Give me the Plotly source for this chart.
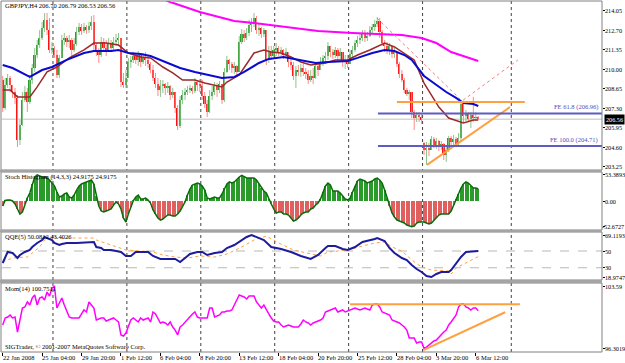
import plotly.graph_objects as go

# ====================== data ======================
TITLE_MAIN = "GBPJPY,H4 206.70 206.79 206.53 206.56"
TITLE_STOCH = "Stoch Histogram (14,3,3) 24.9175 24.9175"
TITLE_QQE = "QQE(5) 50.0812 43.4026"
TITLE_MOM = "Mom(14) 100.7511"
COPYRIGHT = "SIGTrader, \u00a9 2001-2007 MetaQuotes Software Corp."

first_open = 209.27
gap_bar = 171
gap_open = 204.91

closes = [
    207.33, 208.93, 209.41, 208.93, 208.44, 208.03, 205.12, 206.16, 207.89, 208.44,
    207.75, 209.27, 210.10, 211.00, 211.69, 212.18, 212.87, 213.43, 212.73, 211.35,
    211.49, 211.00, 209.62, 210.80, 212.04, 212.18, 211.90, 212.04, 211.35, 211.76,
    212.59, 212.94, 212.66, 212.94, 212.73, 213.01, 213.29, 211.69, 211.21, 211.00,
    211.90, 211.49, 211.35, 211.76, 211.49, 211.90, 212.04, 212.18, 209.13, 208.93,
    209.41, 210.52, 210.66, 210.93, 210.66, 211.00, 210.52, 210.86, 210.66, 210.38,
    209.96, 209.41, 209.00, 208.58, 208.86, 209.00, 208.72, 208.86, 208.23, 208.44,
    207.33, 206.09, 207.89, 208.23, 208.44, 208.58, 208.72, 208.51, 209.13, 208.93,
    208.86, 208.16, 207.61, 207.06, 208.16, 208.44, 208.86, 208.58, 209.00, 207.89,
    209.83, 210.66, 210.38, 210.10, 210.24, 209.83, 211.90, 212.46, 212.18, 212.53,
    213.08, 213.29, 213.56, 212.73, 212.87, 212.46, 212.73, 210.66, 211.21, 210.93,
    211.35, 211.49, 211.21, 211.35, 211.00, 211.21, 210.52, 210.31, 209.55, 209.96,
    209.83, 210.10, 209.83, 209.69, 209.27, 209.55, 209.41, 210.24, 209.96, 210.52,
    210.80, 210.93, 211.63, 211.21, 211.00, 211.35, 210.93, 211.21, 210.52, 210.66,
    210.38, 211.07, 211.35, 211.83, 212.04, 212.18, 212.46, 212.18, 212.32, 212.73,
    212.94, 213.15, 213.36, 212.59, 211.83, 211.63, 211.35, 211.63, 211.07, 211.21,
    210.38, 209.69, 209.27, 208.58, 208.30, 208.44, 207.06, 206.64, 206.85, 206.71,
    206.50, 204.43, 204.56, 204.43, 205.19, 204.77, 205.05, 204.63, 204.84, 204.08,
    204.43, 205.26, 204.98, 205.19, 204.84, 205.26, 207.61, 206.78, 206.99, 206.57,
    206.85, 206.64, 206.70, 206.56,
]
highs = [
    209.55, 209.41, 209.69, 209.55, 208.93, 208.72, 208.23, 206.50, 208.44, 208.86,
    208.72, 209.62, 210.38, 211.49, 212.04, 212.73, 213.29, 213.91, 213.91, 213.56,
    211.90, 211.63, 211.35, 211.00, 212.39, 212.53, 212.32, 212.39, 212.18, 212.18,
    212.94, 213.22, 213.15, 213.22, 213.08, 213.29, 213.70, 213.77, 211.83, 211.49,
    212.25, 212.18, 212.04, 212.18, 212.04, 212.25, 212.46, 212.53, 212.18, 209.76,
    209.96, 210.80, 210.93, 211.21, 211.14, 211.28, 211.07, 211.14, 211.21, 210.93,
    210.52, 210.31, 209.76, 209.41, 209.27, 209.27, 209.06, 209.13, 208.93, 208.72,
    208.44, 207.54, 208.16, 208.58, 208.72, 208.86, 208.93, 208.86, 209.41, 209.27,
    209.34, 209.27, 208.44, 207.89, 208.58, 208.86, 209.13, 209.06, 209.20, 209.00,
    210.10, 210.93, 210.73, 210.52, 210.52, 210.31, 212.32, 212.80, 212.73, 212.87,
    213.43, 213.56, 213.91, 213.70, 213.22, 212.94, 212.87, 212.73, 211.63, 211.63,
    211.63, 211.83, 211.63, 211.56, 211.42, 211.49, 211.07, 210.80, 210.52, 210.24,
    210.31, 210.38, 210.38, 210.10, 209.96, 209.96, 210.10, 210.52, 210.45, 210.86,
    211.00, 211.21, 211.90, 211.56, 211.42, 211.56, 211.49, 211.49, 211.21, 211.00,
    211.00, 211.35, 211.63, 212.04, 212.32, 212.53, 212.73, 212.73, 212.59, 213.01,
    213.15, 213.43, 213.63, 213.56, 212.73, 212.04, 211.90, 211.83, 211.63, 211.49,
    211.21, 210.52, 209.96, 209.41, 208.72, 208.58, 208.44, 207.20, 207.06, 207.06,
    206.99, 204.98, 204.98, 204.91, 205.40, 205.33, 205.26, 205.12, 205.05, 204.91,
    204.77, 205.40, 205.40, 205.46, 205.33, 205.60, 207.89, 207.68, 207.20, 207.06,
    207.06, 208.10, 207.06, 206.79,
]
lows = [
    207.06, 207.20, 208.72, 208.44, 208.03, 207.61, 204.63, 204.77, 206.09, 207.75,
    207.06, 207.61, 209.00, 209.83, 210.80, 211.49, 212.04, 212.59, 212.39, 211.14,
    211.07, 210.80, 209.41, 209.41, 210.80, 211.69, 211.56, 211.49, 210.86, 211.21,
    211.63, 212.39, 212.39, 212.53, 212.46, 212.53, 212.73, 211.35, 210.93, 210.45,
    210.86, 211.21, 210.93, 211.21, 211.21, 211.35, 211.63, 211.69, 208.79, 208.72,
    208.72, 209.41, 210.10, 210.45, 210.38, 210.24, 210.17, 210.38, 210.24, 210.10,
    209.76, 209.20, 208.72, 208.16, 208.10, 208.37, 208.23, 208.37, 207.89, 208.03,
    206.99, 205.81, 205.95, 207.61, 207.89, 208.23, 208.37, 208.30, 208.37, 208.51,
    208.44, 207.89, 207.33, 206.71, 206.99, 207.89, 208.23, 208.10, 208.37, 207.61,
    207.75, 209.76, 209.96, 209.76, 209.69, 209.55, 209.83, 211.76, 211.90, 212.04,
    212.32, 212.59, 212.94, 212.46, 212.32, 212.18, 212.25, 210.31, 210.45, 210.66,
    210.80, 210.93, 210.93, 210.93, 210.73, 210.80, 210.17, 209.96, 209.27, 208.72,
    209.55, 209.48, 209.55, 209.34, 209.00, 209.13, 209.00, 209.35, 209.55, 209.96,
    210.24, 210.38, 210.66, 210.86, 210.73, 210.80, 210.59, 210.66, 210.17, 210.03,
    210.10, 210.38, 210.80, 211.21, 211.56, 211.76, 211.97, 211.90, 211.97, 212.25,
    212.46, 212.66, 212.94, 212.18, 211.63, 211.21, 211.07, 211.00, 210.80, 210.80,
    210.17, 209.41, 209.13, 208.37, 208.16, 207.89, 206.64, 205.81, 206.36, 206.36,
    206.23, 204.08, 203.39, 204.01, 204.43, 204.56, 204.50, 204.36, 204.43, 203.73,
    203.60, 204.29, 204.70, 204.70, 204.63, 204.70, 204.98, 206.36, 206.43, 206.36,
    205.95, 206.36, 206.43, 206.53,
]
bid_price = 206.56
bid_text = "206.56"

ma_blue_bars = [0, 4, 11, 16, 20, 26, 33, 37, 44, 47, 51, 56, 60, 67, 72, 78, 80, 89, 94, 98,
                104, 108, 114, 121, 127, 132, 140, 144, 150, 155, 159, 163, 166, 171, 176, 180,
                184, 187, 191, 193]
ma_blue = [210.31, 210.10, 209.48, 209.96, 210.17, 210.66, 211.14, 211.28, 211.28, 211.35,
           211.14, 211.07, 210.93, 210.45, 210.10, 209.83, 209.76, 209.41, 209.48, 209.83,
           210.45, 210.73, 210.86, 210.66, 210.45, 210.52, 210.59, 210.80, 211.14, 211.35,
           211.28, 211.00, 210.66, 209.55, 208.93, 208.44, 208.03, 207.68, 207.61, 207.47]
ma_red_bars = [0, 3, 6, 11, 14, 18, 22, 27, 33, 37, 42, 47, 51, 56, 60, 65, 69, 73, 78, 82,
               89, 91, 96, 100, 102, 106, 109, 113, 117, 121, 125, 131, 135, 140, 144, 149,
               153, 155, 159, 163, 167, 171, 177, 181, 187, 191, 193]
ma_red = [208.58, 208.58, 208.10, 208.10, 208.79, 209.83, 210.17, 210.80, 211.35, 211.83,
          211.83, 211.69, 211.14, 210.86, 210.80, 210.17, 209.76, 209.27, 209.27, 209.06,
          208.79, 209.13, 209.62, 210.66, 211.14, 211.35, 211.21, 211.14, 210.86, 210.52,
          210.31, 210.45, 210.66, 210.66, 211.00, 211.35, 211.69, 211.83, 211.56, 211.14,
          210.66, 209.06, 207.40, 206.64, 206.30, 206.50, 206.50]
ma_long_bars = [56, 68, 80, 89, 94, 102, 114, 128, 142, 155, 162, 170, 176, 182, 189, 193]
ma_long = [215.50, 214.67, 213.98, 213.56, 213.36, 213.22, 212.94, 212.66, 212.53, 212.46,
           212.39, 212.18, 211.83, 211.21, 210.80, 210.59]

fe_texts = ["FE 61.8 (206.96)", "FE 100.0 (204.71)"]
fe_prices = [206.96, 204.71]
fe_start_bar = 152.3
resist_bars = [160.0, 211.9]
resist_prices = [207.75, 207.75]
support_bars = [172.2, 205.9]
support_prices = [203.39, 207.40]
fib_path_bars = [151.9, 186.4, 209.1]
fib_path_prices = [213.56, 207.82, 210.66]

stoch = [
    -10.2, 1.0, 2.0, 2.0, 0.0, -6.1, -16.3, -26.5, -22.4, -6.1,
    6.1, 16.3, 34.7, 49.0, 53.39, 51.0, 49.0, 49.0, 46.9, 42.8,
    36.7, 30.6, 18.4, 8.2, 10.2, 14.3, 16.3, 8.2, 6.1, 12.2,
    22.4, 30.6, 34.7, 36.7, 38.8, 40.8, 42.8, 34.7, 10.2, -10.2,
    -20.4, -22.4, -20.4, -18.4, -16.3, -8.2, -2.0, -6.1, -16.3, -34.7,
    -42.8, -26.5, -12.2, 0.5, 8.2, 12.2, 4.1, 4.1, 6.1, 2.0,
    -4.1, -18.4, -26.5, -34.7, -38.8, -36.7, -32.6, -28.6, -28.6, -30.6,
    -30.6, -26.5, -20.4, -12.2, -2.0, 12.2, 24.5, 32.6, 34.7, 36.7,
    34.7, 30.6, 22.4, 6.1, 4.1, 6.1, 8.2, 6.1, 6.1, 14.3,
    26.5, 34.7, 38.8, 36.7, 38.8, 44.9, 49.0, 52.5, 49.0, 46.9,
    46.9, 46.9, 46.9, 42.8, 34.7, 26.5, 20.4, 16.3, 4.1, -6.1,
    -16.3, -24.5, -22.4, -22.4, -26.5, -26.5, -28.6, -34.7, -40.8, -38.8,
    -34.7, -28.6, -24.5, -22.4, -22.4, -16.3, -14.3, -8.2, -4.1, 4.1,
    18.4, 30.6, 36.7, 32.6, 20.4, 20.4, 20.4, 16.3, 10.2, 4.1,
    2.0, 6.1, 18.4, 30.6, 40.8, 44.9, 42.8, 40.8, 36.7, 38.8,
    40.8, 44.9, 46.9, 42.8, 36.7, 22.4, 6.1, -10.2, -24.5, -32.6,
    -38.8, -40.8, -42.8, -44.9, -49.0, -51.0, -52.67, -51.0, -44.9, -42.8,
    -42.8, -42.8, -44.9, -46.9, -44.9, -38.8, -34.7, -28.6, -26.5, -26.5,
    -26.5, -26.5, -20.4, -8.2, 4.1, 14.3, 26.5, 34.7, 38.8, 36.7,
    30.6, 26.5, 26.5, 24.92,
]

qqe_fast_bars = [0, 1, 2, 4, 6, 7, 9, 11, 12, 14, 16, 17, 18, 20, 21, 23, 24, 26, 30, 34,
                 37, 38, 40, 41, 44, 46, 48, 50, 52, 54, 56, 59, 61, 64, 70, 72, 74, 76, 79, 81,
                 83, 86, 89, 91, 94, 97, 99, 101, 104, 106, 109, 113, 117, 121, 125, 128, 131,
                 132, 135, 138, 140, 143, 146, 148, 151, 152, 155, 157, 159, 162, 164, 166,
                 168, 170, 172, 174, 176, 178, 181, 182, 184, 186, 188, 191, 193]
qqe_fast = [35.69, 42.85, 48.82, 47.63, 41.66, 45.24, 48.82, 51.21, 54.79, 59.57,
            63.15, 66.73, 65.54, 63.15, 59.57, 57.18, 58.37, 59.57, 59.57, 60.76,
            60.76, 54.79, 53.60, 51.21, 51.21, 50.02, 48.82, 44.05, 44.05, 48.82,
            48.82, 48.82, 44.05, 40.46, 40.46, 36.88, 41.66, 46.43, 48.82, 48.82,
            45.24, 47.63, 48.82, 53.60, 57.18, 63.15, 66.73, 69.12, 65.54, 63.15,
            54.79, 52.40, 48.82, 44.05, 40.46, 45.24, 53.60, 55.99, 55.99, 52.40,
            51.21, 54.79, 60.76, 61.96, 64.34, 65.54, 61.96, 53.60, 47.63, 41.66,
            39.27, 33.30, 28.52, 24.94, 20.17, 18.97, 22.55, 24.94, 24.94, 27.33,
            35.69, 42.85, 48.82, 50.02, 50.08]
qqe_slow_bars = [0, 4, 10, 12, 15, 17, 19, 21, 26, 37, 38, 44, 48, 50, 56, 61, 65, 70, 75, 80,
                 86, 91, 97, 102, 107, 112, 118, 124, 129, 132, 140, 146, 151, 155, 158, 162,
                 166, 170, 174, 181, 182, 184, 189, 193]
qqe_slow = [36.88, 41.66, 42.85, 47.63, 54.79, 63.15, 64.34, 65.54, 65.54, 65.54,
            63.15, 57.18, 53.60, 51.21, 50.02, 48.82, 45.24, 42.85, 41.66, 44.05,
            42.85, 46.43, 54.79, 63.15, 67.90, 59.57, 51.21, 47.63, 44.05, 48.82,
            51.21, 55.99, 59.57, 60.76, 54.79, 50.02, 39.27, 30.91, 27.33, 26.14,
            22.55, 29.72, 36.88, 43.40]
qqe_levels = [50, 30]

mom = [
    99.06, 99.89, 100.00, 100.24, 99.89, 100.00, 98.24, 99.65, 101.06, 101.18,
    101.77, 101.41, 102.24, 102.59, 101.41, 102.24, 102.36, 102.00, 102.94, 102.47,
    103.41, 103.59, 101.06, 101.65, 102.24, 101.41, 100.59, 100.00, 99.89, 99.89,
    99.89, 99.89, 100.36, 100.83, 100.59, 101.77, 101.41, 101.06, 99.65, 99.77,
    99.89, 99.89, 99.53, 99.65, 99.77, 99.89, 99.65, 99.42, 97.89, 97.77,
    98.12, 98.95, 99.65, 99.89, 99.65, 99.42, 99.89, 99.65, 99.77, 99.89,
    99.42, 100.59, 100.36, 99.89, 99.30, 99.42, 99.30, 99.06, 99.42, 98.83,
    98.47, 97.89, 98.83, 99.06, 99.42, 99.65, 100.12, 100.36, 100.59, 100.00,
    99.89, 99.89, 99.89, 99.89, 101.06, 101.06, 100.00, 100.12, 100.24, 100.59,
    100.59, 100.71, 100.71, 100.83, 101.41, 102.00, 102.59, 102.47, 102.36, 102.12,
    102.47, 102.47, 102.47, 101.77, 101.41, 101.06, 101.41, 100.83, 100.36, 99.89,
    99.53, 99.42, 99.42, 99.06, 98.83, 98.95, 99.06, 98.95, 98.83, 98.83,
    98.83, 99.18, 99.65, 99.42, 99.30, 99.06, 99.30, 99.42, 99.53, 99.65,
    99.89, 100.59, 100.71, 100.83, 100.94, 101.06, 100.59, 100.71, 100.83, 100.59,
    100.71, 100.83, 100.94, 101.06, 100.94, 100.83, 100.94, 101.06, 100.94, 100.83,
    101.41, 101.53, 101.53, 101.18, 100.59, 100.47, 100.36, 100.24, 99.65, 99.53,
    99.42, 99.30, 99.06, 98.83, 98.47, 97.53, 97.53, 97.53, 96.95, 97.06,
    97.06, 96.30, 96.47, 96.71, 96.95, 97.18, 97.30, 97.65, 97.89, 98.24,
    98.47, 99.06, 99.42, 99.89, 100.24, 101.18, 101.53, 101.55, 101.18, 101.06,
    100.83, 101.06, 101.06, 100.75,
]
mom_resist_bars = [141.0, 209.9]
mom_resist = [101.50, 101.50]
mom_support_bars = [170.7, 203.9]
mom_support = [96.12, 100.56]

price_ticks = [214.05, 212.70, 211.35, 210.00, 208.65, 207.30, 205.95, 204.60, 203.25]
price_tick_text = ["214.05", "212.70", "211.35", "210.00", "208.65", "207.30", "205.95",
                   "204.60", "203.25"]
stoch_ticks = [53.3893, 0.0, -52.6727]
stoch_tick_text = ["53.3893", "0.00", "-52.6727"]
qqe_ticks = [69.1193, 50, 30, 18.9747]
qqe_tick_text = ["69.1193", "50", "30", "18.9747"]
mom_ticks = [103.59, 96.3019]
mom_tick_text = ["103.59", "96.3019"]

time_labels = ["22 Jan 2008", "25 Jan 04:00", "29 Jan 20:00", "1 Feb 12:00", "6 Feb 04:00",
               "8 Feb 20:00", "13 Feb 12:00", "18 Feb 04:00", "20 Feb 20:00", "25 Feb 12:00",
               "28 Feb 04:00", "3 Mar 20:00", "6 Mar 12:00"]
time_label_bars = [0, 16, 32, 48, 64, 80, 96, 112, 128, 144, 160, 176, 192]
week_grid_bars = [21, 51, 81, 111, 141, 171, 207]

# ====================== layout helpers (pixels) ======================
W, H = 625, 363
PL, PR = 2, 602
BAR0_PX, BAR_PX = 2.7, 2.464


def fy(px):
    return 1 - px / H


def fx(px):
    return px / W


PANELS = [(1, 170), (172, 230), (232, 280), (283, 352)]
SEPS = [(170, 172), (230, 232), (280, 283)]
FONT = "Liberation Serif, Times New Roman, serif"
FS = 6.5
AXFS = 6.2

bars = list(range(len(closes)))
opens = [first_open] + closes[:-1]
opens[gap_bar] = gap_open
hi = [max(h, o, c) for h, o, c in zip(highs, opens, closes)]
lo = [min(l, o, c) for l, o, c in zip(lows, opens, closes)]

UP_BODY, DN_BODY = "#2e9b2e", "#ff1010"
UP_WICK, DN_WICK = "#8cc48c", "#ff8a8a"

fig = go.Figure()

# wicks
wxu, wyu, wxd, wyd = [], [], [], []
for i in bars:
    if closes[i] >= opens[i]:
        wxu += [i, i, None]
        wyu += [lo[i], hi[i], None]
    else:
        wxd += [i, i, None]
        wyd += [lo[i], hi[i], None]
fig.add_trace(go.Scatter(x=wxu, y=wyu, mode="lines", line=dict(color=UP_WICK, width=1),
                         hoverinfo="skip", xaxis="x", yaxis="y"))
fig.add_trace(go.Scatter(x=wxd, y=wyd, mode="lines", line=dict(color=DN_WICK, width=1),
                         hoverinfo="skip", xaxis="x", yaxis="y"))
# bodies
fig.add_trace(go.Bar(
    x=bars,
    y=[max(abs(c - o), 0.03) for o, c in zip(opens, closes)],
    base=[min(o, c) for o, c in zip(opens, closes)],
    width=0.66,
    marker=dict(color=[UP_BODY if c >= o else DN_BODY for o, c in zip(opens, closes)],
                line=dict(width=0)),
    xaxis="x", yaxis="y"))

# moving averages
fig.add_trace(go.Scatter(x=ma_long_bars, y=ma_long, mode="lines",
                         line=dict(color="#ff00ff", width=2), xaxis="x", yaxis="y"))
fig.add_trace(go.Scatter(x=ma_red_bars, y=ma_red, mode="lines",
                         line=dict(color="#9b2a2a", width=1.5), xaxis="x", yaxis="y"))
fig.add_trace(go.Scatter(x=ma_blue_bars, y=ma_blue, mode="lines",
                         line=dict(color="#0a0ad0", width=2), xaxis="x", yaxis="y"))

# drawn objects on price chart
fig.add_trace(go.Scatter(x=fib_path_bars, y=fib_path_prices, mode="lines",
                         line=dict(color="#f08080", width=1, dash="dot"), xaxis="x", yaxis="y"))
fig.add_trace(go.Scatter(x=resist_bars, y=resist_prices, mode="lines",
                         line=dict(color="#ffa040", width=2), xaxis="x", yaxis="y"))
fig.add_trace(go.Scatter(x=support_bars, y=support_prices, mode="lines",
                         line=dict(color="#ffa040", width=2), xaxis="x", yaxis="y"))

# stochastic histogram
fig.add_trace(go.Bar(x=bars, y=stoch, width=0.5,
                     marker=dict(color=["#2a9a2a" if v >= 0 else "#e06060" for v in stoch],
                                 line=dict(width=0)),
                     xaxis="x", yaxis="y2"))
fig.add_trace(go.Scatter(x=bars, y=stoch, mode="lines",
                         line=dict(color="#0b6b0b", width=1.5), xaxis="x", yaxis="y2"))

# QQE
fig.add_trace(go.Scatter(x=qqe_slow_bars, y=qqe_slow, mode="lines",
                         line=dict(color="#ffa040", width=1, dash="dot"), xaxis="x", yaxis="y3"))
fig.add_trace(go.Scatter(x=qqe_fast_bars, y=qqe_fast, mode="lines",
                         line=dict(color="#1c1c9c", width=2), xaxis="x", yaxis="y3"))

# Momentum
fig.add_trace(go.Scatter(x=bars, y=mom, mode="lines",
                         line=dict(color="#ff00ff", width=1.5), xaxis="x", yaxis="y4"))
fig.add_trace(go.Scatter(x=mom_resist_bars, y=mom_resist, mode="lines",
                         line=dict(color="#ffa040", width=2), xaxis="x", yaxis="y4"))
fig.add_trace(go.Scatter(x=mom_support_bars, y=mom_support, mode="lines",
                         line=dict(color="#ffa040", width=2), xaxis="x", yaxis="y4"))

x_range = [(PL - BAR0_PX) / BAR_PX, (PR - BAR0_PX) / BAR_PX]

shapes = []
for b in week_grid_bars:
    shapes.append(dict(type="line", xref="x", yref="paper", x0=b - 0.6, x1=b - 0.6,
                       y0=fy(352), y1=fy(1), layer="below",
                       line=dict(color="#404040", width=1, dash="dot")))
shapes.append(dict(type="line", xref="paper", yref="y", x0=fx(PL), x1=fx(PR),
                   y0=bid_price, y1=bid_price, layer="below",
                   line=dict(color="#c0c0c0", width=1)))
for p in fe_prices:
    shapes.append(dict(type="line", xref="x", yref="y", x0=fe_start_bar, x1=x_range[1],
                       y0=p, y1=p, line=dict(color="#5c5cc4", width=2)))
for lv in qqe_levels:
    shapes.append(dict(type="line", xref="paper", yref="y3", x0=fx(PL), x1=fx(PR),
                       y0=lv, y1=lv, layer="below",
                       line=dict(color="#b8b8b8", width=1, dash="dash")))
for t, b in PANELS:
    shapes.append(dict(type="rect", xref="paper", yref="paper", x0=fx(1), x1=fx(PR),
                       y0=fy(b), y1=fy(t), line=dict(color="#808080", width=1)))
for t, b in SEPS:
    shapes.append(dict(type="rect", xref="paper", yref="paper", x0=0, x1=fx(PR),
                       y0=fy(b), y1=fy(t), fillcolor="#a4a4a4", line=dict(width=0)))

ann = []


def txt(x, y, s, color="black", xanchor="left", yanchor="middle", xref="paper", yref="paper",
        size=FS, **kw):
    ann.append(dict(x=x, y=y, text=s, xref=xref, yref=yref, xanchor=xanchor, yanchor=yanchor,
                    showarrow=False, font=dict(family=FONT, size=size, color=color), **kw))


txt(fx(3), fy(6), TITLE_MAIN)
txt(fx(3), fy(177), TITLE_STOCH)
txt(fx(3), fy(237), TITLE_QQE)
txt(fx(3), fy(289), TITLE_MOM)
txt(fx(3), fy(346), COPYRIGHT)
for s, p in zip(fe_texts, fe_prices):
    txt(fx(600), p, s, color="#5050b8", xanchor="right", yanchor="bottom", yref="y")
for s, b in zip(time_labels, time_label_bars):
    txt(b, fy(357.5), s, xref="x", xshift=-2)

# right-hand scale labels
for yref, vals, texts in [("y", price_ticks, price_tick_text),
                          ("y2", stoch_ticks, stoch_tick_text),
                          ("y3", qqe_ticks, qqe_tick_text),
                          ("y4", mom_ticks, mom_tick_text)]:
    for v, s in zip(vals, texts):
        if s.startswith("-"):
            txt(1.0, v, s, xanchor="right", yref=yref, size=AXFS, borderpad=0)
        else:
            txt(fx(604), v, s, yref=yref, size=AXFS, borderpad=0)

ann.append(dict(x=fx(603.5), y=bid_price, xref="paper", yref="y", text=bid_text,
                xanchor="left", yanchor="middle", showarrow=False, bgcolor="#000000",
                borderpad=1, font=dict(family=FONT, size=AXFS, color="white")))


def yax(domain_px, rng, tickvals):
    return dict(domain=[fy(domain_px[1]), fy(domain_px[0])], range=rng, side="right",
                anchor="x", showgrid=False, zeroline=False, showline=False,
                tickvals=tickvals, ticks="outside", ticklen=2, tickcolor="#000000",
                showticklabels=False, automargin=False, fixedrange=True)


fig.update_layout(
    width=W, height=H,
    margin=dict(l=0, r=0, t=0, b=0),
    paper_bgcolor="white", plot_bgcolor="white",
    showlegend=False, barmode="overlay", bargap=0,
    xaxis=dict(domain=[fx(PL), fx(PR)], range=x_range, anchor="y4", showgrid=False,
               zeroline=False, showline=False, tickvals=time_label_bars, ticks="outside",
               ticklen=3, tickcolor="#000000", showticklabels=False, automargin=False,
               fixedrange=True),
    yaxis=yax(PANELS[0], [203.04, 214.74], price_ticks),
    yaxis2=yax(PANELS[1], [-59.16, 59.16], stoch_ticks),
    yaxis3=yax(PANELS[2], [15.39, 72.70], qqe_ticks),
    yaxis4=yax(PANELS[3], [95.89, 104.00], mom_ticks),
    shapes=shapes,
    annotations=ann,
)

fig.write_html("out.html")
